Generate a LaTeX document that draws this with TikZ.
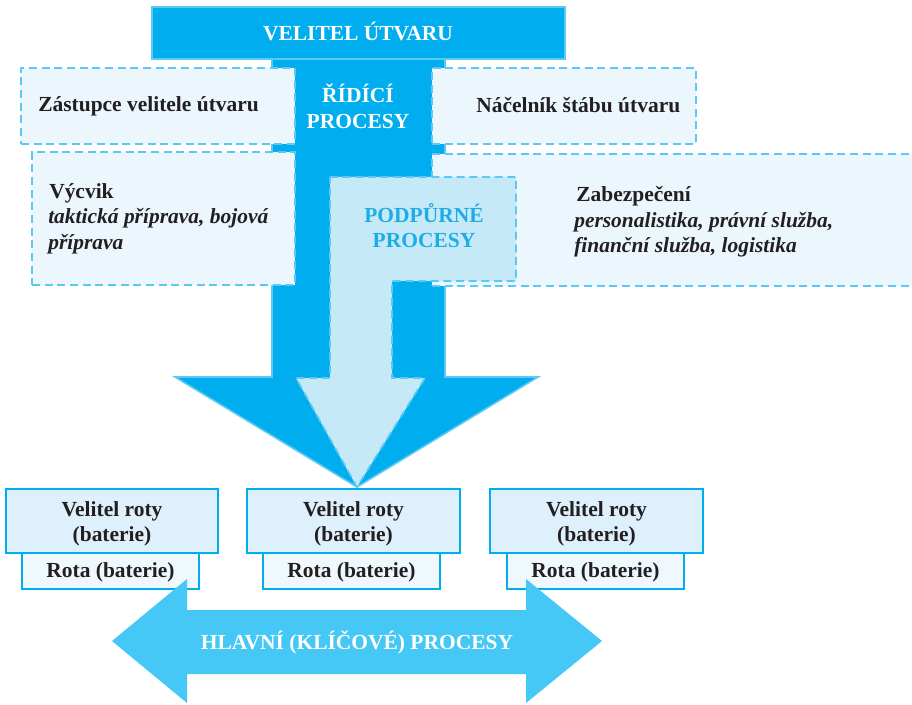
\documentclass[tikz,border=0pt]{standalone}
\usepackage{fontspec}
\setmainfont{Liberation Serif}
\usetikzlibrary{fit}
\definecolor{cdark}{HTML}{00AEEF}
\definecolor{cedge}{HTML}{5CC9F5}
\definecolor{cpale}{HTML}{EBF7FD}
\definecolor{clight}{HTML}{C6E9F8}
\definecolor{cvel}{HTML}{DDF0FB}
\definecolor{crota}{HTML}{EEF8FD}
\definecolor{cbot}{HTML}{45C8F5}
\definecolor{cpod}{HTML}{1DADE6}
\definecolor{ctext}{HTML}{231F20}
\newcommand\myfs{\fontsize{16.1}{19}\selectfont}
\tikzset{
  darkarrow/.style={fill=cdark, draw=cedge, line width=1.2pt, line join=miter},
  hdrbox/.style={fill=cdark, draw=cedge, line width=1.5pt, inner sep=0pt},
  dbox/.style={fill=cpale, draw=cedge, line width=1.5pt, dash pattern=on 6pt off 3.5pt, inner sep=0pt},
  lightarrow/.style={fill=clight, draw=cedge, line width=1.3pt, dash pattern=on 6pt off 3.5pt},
  vbox/.style={fill=cvel, draw=cdark, line width=1.4pt, inner sep=0pt},
  rbox/.style={fill=crota, draw=cdark, line width=1.4pt, inner sep=0pt},
  btxt/.style={font=\myfs\bfseries, text=ctext, inner sep=0pt, anchor=base west},
  itxt/.style={font=\myfs\bfseries\itshape, text=ctext, inner sep=0pt, anchor=base west},
  ctxt/.style={font=\myfs\bfseries, text=ctext, inner sep=0pt, anchor=base},
  wtxt/.style={font=\myfs\bfseries, text=white, inner sep=0pt, anchor=base},
  ptxt/.style={font=\myfs\bfseries, text=cpod, inner sep=0pt, anchor=base},
  botarrow/.style={fill=cbot},
}
\begin{document}
\begin{tikzpicture}[x=0.75pt,y=-0.75pt]
\useasboundingbox[fill=white] (0,0) rectangle (912,705);

% main (dark) arrow
\draw[darkarrow] (272,55) -- (445,55) -- (445,377) -- (538,377) -- (357,487) -- (175,377) -- (272,377) -- cycle;

% header
\node[hdrbox, fit={(152,7) (565,59)}] (hdr) {};
\node[wtxt] (hdrt) at (358,41) {VELITEL ÚTVARU};

% dashed boxes
\node[dbox, fit={(21,68) (295,144)}] (zast) {};
\node[dbox, fit={(432,68) (696,144)}] (nac) {};
\node[dbox, fit={(32,152) (295,285)}] (vyc) {};
\node[dbox, fit={(432,154) (940,286)}] (zab) {};

% support (light) arrow
\draw[lightarrow] (330,177) -- (516,177) -- (516,281) -- (392,281) -- (392,378) -- (425,378) -- (357,487) -- (296,378) -- (330,378) -- cycle;

% texts
\node[wtxt] (rid1) at (358,103) {ŘÍDÍCÍ};
\node[wtxt] (rid2) at (358,129) {PROCESY};
\node[btxt] (zastt) at (38,112) {Zástupce velitele útvaru};
\node[btxt] (nact) at (476,113) {Náčelník štábu útvaru};
\node[btxt] (vyc1) at (49,199) {Výcvik};
\node[itxt] (vyc2) at (48,224) {taktická příprava, bojová};
\node[itxt] (vyc3) at (48,250) {příprava};
\node[btxt] (zab1) at (576,202) {Zabezpečení};
\node[itxt] (zab2) at (574,228) {personalistika, právní služba,};
\node[itxt] (zab3) at (574,253) {finanční služba, logistika};
\node[ptxt] (pod1) at (424,223) {PODPŮRNÉ};
\node[ptxt] (pod2) at (424,248) {PROCESY};

% bottom boxes
\node[rbox, fit={(22,553) (199,589)}] (r1) {};
\node[rbox, fit={(263,553) (440,589)}] (r2) {};
\node[rbox, fit={(507,553) (684,589)}] (r3) {};
\node[vbox, fit={(6,489) (218,553)}] (v1) {};
\node[vbox, fit={(247,489) (460,553)}] (v2) {};
\node[vbox, fit={(490,489) (703,553)}] (v3) {};

\node[ctxt] (v1a) at (112,516) {Velitel roty};
\node[ctxt] (v1b) at (112,541) {(baterie)};
\node[ctxt] (v2a) at (353.5,516) {Velitel roty};
\node[ctxt] (v2b) at (353.5,541) {(baterie)};
\node[ctxt] (v3a) at (596.5,516) {Velitel roty};
\node[ctxt] (v3b) at (596.5,541) {(baterie)};
\node[ctxt] (r1t) at (110.5,577) {Rota (baterie)};
\node[ctxt] (r2t) at (351.5,577) {Rota (baterie)};
\node[ctxt] (r3t) at (595.5,577) {Rota (baterie)};

% main processes double arrow
\fill[botarrow] (112,641) -- (187,579) -- (187,610) -- (526,610) -- (526,579) -- (602,641) -- (526,703) -- (526,674) -- (187,674) -- (187,703) -- cycle;
\node[wtxt] (hlav) at (357,649) {HLAVNÍ (KLÍČOVÉ) PROCESY};
\end{tikzpicture}
\end{document}
